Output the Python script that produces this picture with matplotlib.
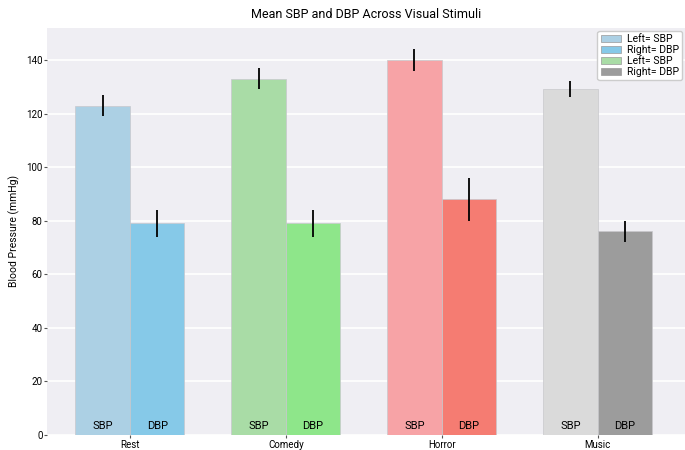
import numpy as np
import matplotlib
matplotlib.use("Agg")
import matplotlib.pyplot as plt

plt.rcParams['font.family'] = ['Roboto', 'DejaVu Sans']

# Data
stimuli = ['Rest', 'Comedy', 'Horror', 'Music']
sbp_mean = [123, 133, 140, 129]
sbp_err = [4, 4, 4, 3]
dbp_mean = [79, 79, 88, 76]
dbp_err = [5, 5, 8, 4]

sbp_colors = ['#acd0e4', '#a9dca6', '#f7a3a6', '#dadada']
dbp_colors = ['#86c9e8', '#8ee68a', '#f57c72', '#9c9c9c']

legend_labels = ['Left= SBP', 'Right= DBP', 'Left= SBP', 'Right= DBP']
legend_colors = ['#acd0e4', '#86c9e8', '#a9dca6', '#9c9c9c']

fig = plt.figure(figsize=(6.85, 4.5), dpi=100)
ax = fig.add_axes([0.069, 0.034, 0.931, 0.904])
ax.set_facecolor('#efeef3')
for s in ax.spines.values():
    s.set_visible(False)

x = np.arange(len(stimuli))
w = 0.35

ax.bar(x - w / 2, sbp_mean, w, color=sbp_colors, edgecolor='#c8c8cc', linewidth=0.5, zorder=2)
ax.bar(x + w / 2, dbp_mean, w, color=dbp_colors, edgecolor='#c8c8cc', linewidth=0.5, zorder=2)
ax.errorbar(x - w / 2, sbp_mean, yerr=sbp_err, fmt='none', ecolor='black', elinewidth=1.3, zorder=3)
ax.errorbar(x + w / 2, dbp_mean, yerr=dbp_err, fmt='none', ecolor='black', elinewidth=1.3, zorder=3)

for xi in x:
    ax.text(xi - w / 2, 1.2, 'SBP', ha='center', va='bottom', fontsize=8, zorder=4)
    ax.text(xi + w / 2, 1.2, 'DBP', ha='center', va='bottom', fontsize=8, zorder=4)

ax.set_xlim(-0.53, 3.56)
ax.set_ylim(0, 152)
ax.set_yticks(range(0, 141, 20))
ax.set_xticks(x)
ax.set_xticklabels(stimuli)
ax.tick_params(axis='both', labelsize=7, length=2.5, width=0.8, color='#555555', pad=1)
ax.yaxis.grid(True, color='white', linewidth=1.2, zorder=0)
ax.set_axisbelow(True)

ax.set_ylabel('Blood Pressure (mmHg)', fontsize=7.5, labelpad=4)
ax.set_title('Mean SBP and DBP Across Visual Stimuli', fontsize=9, pad=7)

handles = [plt.Rectangle((0, 0), 1, 1, facecolor=c, edgecolor='#999999', linewidth=0.5) for c in legend_colors]
ax.legend(handles, legend_labels, loc='upper right', fontsize=7.5, frameon=True,
          facecolor='white', edgecolor='#cccccc', framealpha=1, borderpad=0.3,
          labelspacing=0.1, handlelength=2.0, handletextpad=0.5, borderaxespad=0.3)

fig.savefig('out.png', dpi=100)
